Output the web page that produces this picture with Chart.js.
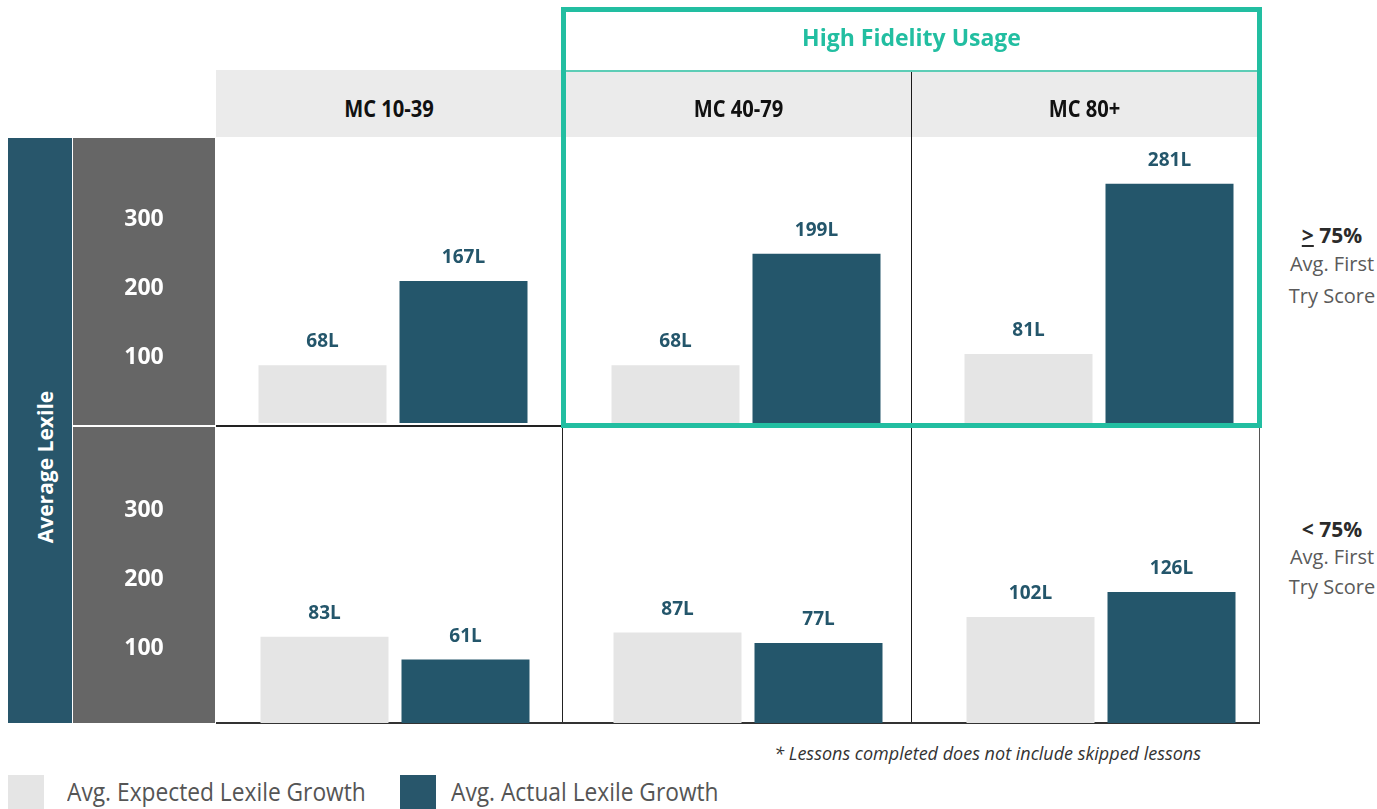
<!DOCTYPE html>
<html><head><meta charset="utf-8">
<script src="https://cdn.jsdelivr.net/npm/chart.js@4.4.1/dist/chart.umd.min.js"></script>
<style>
html,body{margin:0;padding:0;background:#fff;}
#root{position:relative;width:1377px;height:809px;overflow:hidden;font-family:"Open Sans",sans-serif;background:#fff;}
.abs{position:absolute;box-sizing:border-box;}
canvas{position:absolute;}
</style></head><body><div id="root"></div>
<script>
// ---------- data ----------
const columnLabels = ["MC 10-39", "MC 40-79", "MC 80+"];
const groupTitle = "High Fidelity Usage";
const rowLabels = ["≥ 75%", "< 75%"];
const rowSubLabels = ["Avg. First", "Try Score"];
const seriesNames = ["Avg. Expected Lexile Growth", "Avg. Actual Lexile Growth"];
const expectedTop = [68, 68, 81];
const actualTop = [167, 199, 281];
const expectedBottom = [83, 87, 102];
const actualBottom = [61, 77, 126];
const tickLabels = [100, 200, 300];
const yAxisTitle = "Average Lexile";
const footnote = "* Lessons completed does not include skipped lessons";

// ---------- styles ----------
const DARK = "#24566b";
const LIGHT = "#e5e5e5";
const TEAL = "#22bea1";
const BLUEBAR = "#28566b";
const GRAYBOX = "#666666";
const HEADER = "#ebebeb";

const root = document.getElementById("root");
function box(l, t, w, h, css, html) {
  const d = document.createElement("div");
  d.className = "abs";
  d.style.left = l + "px"; d.style.top = t + "px";
  d.style.width = w + "px"; d.style.height = h + "px";
  if (css) d.style.cssText += css;
  if (html !== undefined) d.innerHTML = html;
  root.appendChild(d);
  return d;
}
function makeCanvas(l, t, w, h) {
  const c = document.createElement("canvas");
  c.width = w; c.height = h;
  c.style.left = l + "px"; c.style.top = t + "px";
  c.style.width = w + "px"; c.style.height = h + "px";
  root.appendChild(c);
  return c;
}

// ---------- background structure ----------
box(216, 70, 345, 67, "background:" + HEADER);
box(565, 72, 692, 65, "background:" + HEADER);
box(8, 138, 64, 585, "background:" + BLUEBAR);
box(73, 138, 142, 287, "background:" + GRAYBOX);
box(73, 427, 142, 296, "background:" + GRAYBOX);
box(216, 425, 346, 2, "background:#222");
box(911, 72, 1, 651, "background:#1a1a1a");
box(562, 427, 1, 296, "background:#222");
box(1259, 427, 1, 296, "background:#555");
box(216, 722, 1044, 2, "background:#333");

// ---------- charts ----------
const valueLabelPlugin = {
  id: "valueLabels",
  afterDatasetsDraw(chart) {
    const ctx = chart.ctx;
    ctx.save();
    ctx.font = 'bold 19px "Open Sans"';
    ctx.fillStyle = DARK;
    ctx.textAlign = "center";
    ctx.textBaseline = "alphabetic";
    chart.data.datasets.forEach((ds, i) => {
      const meta = chart.getDatasetMeta(i);
      meta.data.forEach((el, j) => {
        ctx.fillText(ds.data[j] + "L", el.x, el.y - 18);
      });
    });
    ctx.restore();
  }
};

const tickPlugin = {
  id: "tickText",
  afterDraw(chart) {
    const ctx = chart.ctx;
    const s = chart.scales.y;
    ctx.save();
    ctx.font = 'bold 23px "Open Sans"';
    ctx.fillStyle = "#ffffff";
    ctx.textAlign = "center";
    ctx.textBaseline = "middle";
    tickLabels.forEach(v => {
      ctx.fillText(String(v), chart.width / 2, s.getPixelForValue(v) + 1);
    });
    ctx.restore();
  }
};

function panelChart(cx, t, h, exp, act, maxV) {
  const W = 300;
  const c = makeCanvas(Math.round(cx - W / 2), t, W, h);
  const common = { categoryPercentage: 282 / 300, barPercentage: 128 / 141, borderWidth: 0 };
  return new Chart(c, {
    type: "bar",
    data: {
      labels: [""],
      datasets: [
        Object.assign({ label: seriesNames[0], data: [exp], backgroundColor: LIGHT }, common),
        Object.assign({ label: seriesNames[1], data: [act], backgroundColor: DARK }, common)
      ]
    },
    options: {
      responsive: false, animation: false, devicePixelRatio: 1,
      layout: { padding: 0 },
      plugins: { legend: { display: false }, tooltip: { enabled: false } },
      scales: {
        x: { display: false },
        y: { type: "linear", display: false, min: 0, max: maxV }
      }
    },
    plugins: [valueLabelPlugin]
  });
}

function axisChart(l, t, w, h, minV, maxV) {
  const c = makeCanvas(l, t, w, h);
  return new Chart(c, {
    type: "bar",
    data: { labels: [""], datasets: [] },
    options: {
      responsive: false, animation: false, devicePixelRatio: 1,
      layout: { padding: 0 },
      plugins: { legend: { display: false }, tooltip: { enabled: false } },
      scales: {
        x: { display: false },
        y: { type: "linear", display: false, min: minV, max: maxV }
      }
    },
    plugins: [tickPlugin]
  });
}

const topCenters = [392.5, 745.5, 1098.5];
const bottomCenters = [395, 748, 1101];
for (let i = 0; i < 3; i++) {
  panelChart(topCenters[i], 138, 285, expectedTop[i], actualTop[i], 285 / 0.851);
  panelChart(bottomCenters[i], 427, 296, expectedBottom[i], actualBottom[i], 296 / 1.04);
}
axisChart(73, 138, 142, 287, 0, 416);
axisChart(73, 427, 142, 296, -9, 420);

// ---------- frame & texts ----------
box(561, 7, 701, 421, "border:5px solid " + TEAL + ";pointer-events:none");
box(566, 70, 691, 2, "background:#5ccdb6");

box(566, 22, 691, 30, "text-align:center;font-weight:700;font-size:23px;line-height:30px;color:" + TEAL, groupTitle);

const headerSpans = [[216, 346], [566, 345], [912, 345]];
headerSpans.forEach((sp, i) => {
  box(sp[0], 93, sp[1], 30,
    "text-align:center;font-weight:700;font-size:24px;line-height:30px;color:#111;transform:scaleX(0.84);white-space:nowrap",
    columnLabels[i]);
});

box(45 - 150, 467 - 15, 300, 30,
  "text-align:center;font-weight:700;font-size:21px;line-height:30px;color:#fff;transform:rotate(-90deg);white-space:nowrap",
  yAxisTitle);

function rowLabelHtml(s) {
  return s.replace("≥", '<span style="text-decoration:underline;text-underline-offset:2px">&gt;</span>');
}
const rowTops = [[220, 249, 281], [514, 542, 572]];
rowTops.forEach((tp, r) => {
  box(1272, tp[0], 120, 30, "text-align:center;font-weight:700;font-size:21px;line-height:30px;color:#2b2b2b;white-space:nowrap", rowLabelHtml(rowLabels[r]));
  box(1272, tp[1], 120, 30, "text-align:center;font-weight:400;font-size:20px;line-height:30px;color:#5a5a5a;white-space:nowrap", rowSubLabels[0]);
  box(1272, tp[2], 120, 30, "text-align:center;font-weight:400;font-size:20px;line-height:30px;color:#5a5a5a;white-space:nowrap", rowSubLabels[1]);
});

box(600, 742, 601, 22, "text-align:right;font-style:italic;font-size:18px;line-height:22px;color:#333;white-space:nowrap", footnote);

box(8, 775, 36, 40, "background:" + LIGHT);
box(400, 775, 36, 40, "background:" + BLUEBAR);
box(67, 776, 340, 30, "font-size:25px;line-height:30px;color:#555;white-space:nowrap;transform:scaleX(0.91);transform-origin:left center", seriesNames[0]);
box(451, 776, 340, 30, "font-size:25px;line-height:30px;color:#555;white-space:nowrap;transform:scaleX(0.91);transform-origin:left center", seriesNames[1]);
</script>
</body></html>
